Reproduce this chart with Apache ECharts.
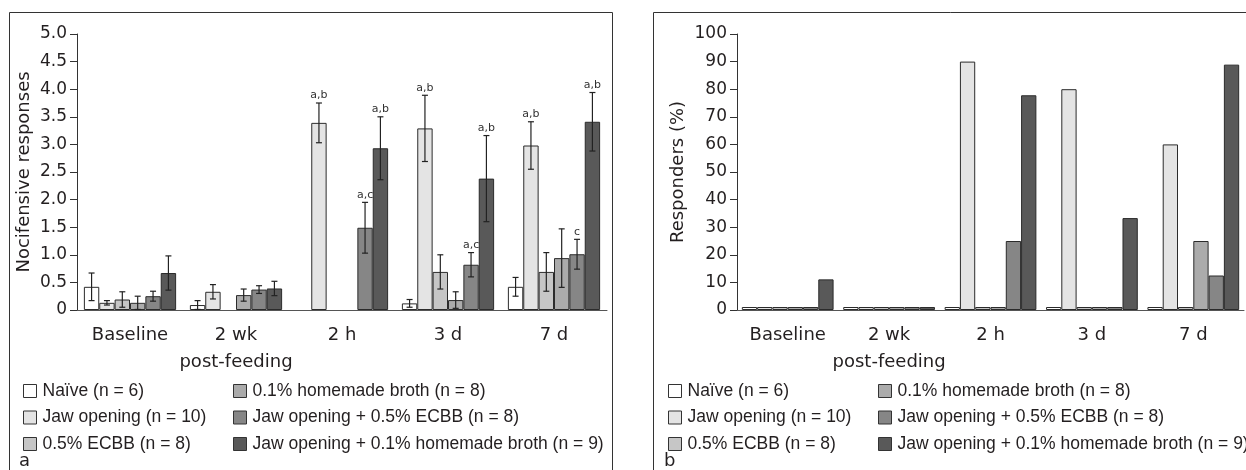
<!DOCTYPE html>
<html><head><meta charset="utf-8">
<script src="https://cdn.jsdelivr.net/npm/echarts@6/dist/echarts.min.js"></script>
<style>html,body{margin:0;padding:0;background:#fff}#c{width:1246px;height:470px}</style>
</head><body><div id="c"></div>
<script>
const categories = ['Baseline', '2 wk', '2 h', '3 d', '7 d'];
const groupNames = ['Naïve (n = 6)', 'Jaw opening (n = 10)', '0.5% ECBB (n = 8)', '0.1% homemade broth (n = 8)', 'Jaw opening + 0.5% ECBB (n = 8)', 'Jaw opening + 0.1% homemade broth (n = 9)'];
const yTicksA = [0, 0.5, 1, 1.5, 2, 2.5, 3, 3.5, 4, 4.5, 5];
const yTicksB = [0, 10, 20, 30, 40, 50, 60, 70, 80, 90, 100];

// Panel a: nocifensive responses (mean) and error (SEM)
const naiveA    = [0.42, 0.09, 0, 0.12, 0.42];
const jawA      = [0.13, 0.33, 3.39, 3.29, 2.98];
const ecbbA     = [0.19, 0, 0, 0.69, 0.69];
const brothA    = [0.13, 0.27, 0, 0.18, 0.94];
const jawEcbbA  = [0.25, 0.37, 1.49, 0.82, 1.01];
const jawBrothA = [0.67, 0.39, 2.93, 2.38, 3.41];

const naiveErr    = [0.25, 0.08, 0, 0.07, 0.17];
const jawErr      = [0.04, 0.13, 0.36, 0.60, 0.43];
const ecbbErr     = [0.14, 0, 0, 0.31, 0.35];
const brothErr    = [0.12, 0.11, 0, 0.15, 0.53];
const jawEcbbErr  = [0.09, 0.07, 0.46, 0.22, 0.27];
const jawBrothErr = [0.31, 0.13, 0.57, 0.78, 0.53];

const jawNote      = ['', '', 'a,b', 'a,b', 'a,b'];
const jawEcbbNote  = ['', '', 'a,c', 'a,c', 'c'];
const jawBrothNote = ['', '', 'a,b', 'a,b', 'a,b'];
const emptyNote    = ['', '', '', '', ''];

// Panel b: responders (%)
const naiveB    = [0, 0, 0, 0, 0];
const jawB      = [0, 0, 90, 80, 60];
const ecbbB     = [0, 0, 0, 0, 0];
const brothB    = [0, 0, 0, 0, 25];
const jawEcbbB  = [0, 0, 25, 0, 12.5];
const jawBrothB = [11.1, 0, 77.8, 33.3, 88.9];

const meansA = [naiveA, jawA, ecbbA, brothA, jawEcbbA, jawBrothA];
const errsA = [naiveErr, jawErr, ecbbErr, brothErr, jawEcbbErr, jawBrothErr];
const notesA = [emptyNote, jawNote, emptyNote, emptyNote, jawEcbbNote, jawBrothNote];
const valsB = [naiveB, jawB, ecbbB, brothB, jawEcbbB, jawBrothB];

const colors = ['#ffffff', '#e4e4e4', '#c6c6c6', '#ababab', '#868686', '#595959'];
const FONT = 'DejaVu Sans';
const LFONT = 'Liberation Sans';
const TXT = '#231f20';
const GAP_A = 0.13, GAP_B = 0.095;

const errData = [];
meansA.forEach((arr, i) => arr.forEach((v, j) => {
  errData.push([j, v, errsA[i][j], i, notesA[i][j]]);
}));

const chart = echarts.init(document.getElementById('c'));

function axisCommonY(idx, max, interval, fmt, name, gap) {
  return {
    type: 'value', gridIndex: idx, min: 0, max: max, interval: interval,
    name: name, nameLocation: 'middle', nameGap: gap,
    nameTextStyle: {fontFamily: FONT, fontSize: 18, color: TXT},
    axisLine: {show: true, lineStyle: {color: '#333', width: 1}},
    axisTick: {show: true, length: 7, lineStyle: {color: '#333'}},
    splitLine: {show: false},
    axisLabel: {fontFamily: FONT, fontSize: 17, color: TXT, margin: 10, formatter: fmt}
  };
}
function axisCommonX(idx) {
  return {
    type: 'category', gridIndex: idx, data: categories,
    axisLine: {show: true, lineStyle: {color: '#555', width: 1}},
    axisTick: {show: false},
    axisLabel: {fontFamily: FONT, fontSize: 18, color: TXT, margin: 12, lineHeight: 27,
      interval: 0,
      formatter: v => v === '2 wk' ? '2 wk\npost-feeding' : v}
  };
}

const series = [];
groupNames.forEach((n, i) => {
  series.push({
    type: 'bar', name: n, xAxisIndex: 0, yAxisIndex: 0,
    data: meansA[i].map(v => v === 0 ? '-' : v),
    barGap: 0, barCategoryGap: (GAP_A * 100) + '%',
    itemStyle: {color: colors[i], borderColor: '#2b2b2b', borderWidth: 1},
    emphasis: {disabled: true}
  });
});
groupNames.forEach((n, i) => {
  series.push({
    type: 'bar', name: n, xAxisIndex: 1, yAxisIndex: 1, data: valsB[i],
    barGap: 0, barCategoryGap: (GAP_B * 100) + '%', barMinHeight: 3,
    itemStyle: {color: colors[i], borderColor: '#2b2b2b', borderWidth: 1},
    emphasis: {disabled: true}
  });
});
series.push({
  type: 'custom', xAxisIndex: 0, yAxisIndex: 0, z: 5, data: errData,
  renderItem: function (params, api) {
    const cat = api.value(0), mean = api.value(1), err = api.value(2), idx = api.value(3);
    const note = errData[params.dataIndex][4];
    if (!err && !note) return null;
    const band = api.size([1, 0])[0];
    const gw = band * (1 - GAP_A);
    const bw = gw / 6;
    const cx = api.coord([cat, 0])[0] - gw / 2 + bw * (idx + 0.5);
    const yTop = api.coord([cat, mean + err])[1];
    const yBot = api.coord([cat, Math.max(0, mean - err)])[1];
    const cap = 3;
    const st = {stroke: '#222', lineWidth: 1.2};
    const children = [];
    if (err) {
      children.push({type: 'line', shape: {x1: cx, y1: yTop, x2: cx, y2: yBot}, style: st});
      children.push({type: 'line', shape: {x1: cx - cap, y1: yTop, x2: cx + cap, y2: yTop}, style: st});
      children.push({type: 'line', shape: {x1: cx - cap, y1: yBot, x2: cx + cap, y2: yBot}, style: st});
    }
    if (note) {
      children.push({type: 'text', x: cx, y: yTop - 2, style: {text: note, fontFamily: FONT, fontSize: 11, fill: '#333', align: 'center', verticalAlign: 'bottom'}});
    }
    return {type: 'group', children: children};
  }
});

function legendCol(left, names) {
  return {
    orient: 'vertical', left: left, top: 382, padding: 0, itemGap: 8.5,
    itemWidth: 13, itemHeight: 13, icon: 'rect', selectedMode: false,
    itemStyle: {borderColor: '#333', borderWidth: 1},
    textStyle: {fontFamily: LFONT, fontSize: 17.5, color: TXT, lineHeight: 16, padding: [0, 0, 0, 1]},
    data: names
  };
}

chart.setOption({
  animation: false,
  grid: [
    {left: 77, top: 34, width: 530, height: 276},
    {left: 737, top: 34, width: 507, height: 276}
  ],
  xAxis: [axisCommonX(0), axisCommonX(1)],
  yAxis: [
    axisCommonY(0, 5, 0.5, v => v === 0 ? '0' : v.toFixed(1), 'Nocifensive responses', 44),
    axisCommonY(1, 100, 10, v => String(v), 'Responders (%)', 50)
  ],
  legend: [
    legendCol(23, groupNames.slice(0, 3)),
    legendCol(233, groupNames.slice(3)),
    legendCol(668, groupNames.slice(0, 3)),
    legendCol(878, groupNames.slice(3))
  ],
  graphic: [
    {type: 'rect', shape: {x: 9.5, y: 12.5, width: 603, height: 480}, style: {fill: 'none', stroke: '#333', lineWidth: 1}, silent: true},
    {type: 'rect', shape: {x: 653.5, y: 12.5, width: 700, height: 480}, style: {fill: 'none', stroke: '#333', lineWidth: 1}, silent: true},
    {type: 'text', left: 19, top: 452, style: {text: 'a', fontFamily: FONT, fontSize: 18, fill: TXT}},
    {type: 'text', left: 664, top: 452, style: {text: 'b', fontFamily: FONT, fontSize: 18, fill: TXT}}
  ],
  series: series
});
</script>
</body></html>
